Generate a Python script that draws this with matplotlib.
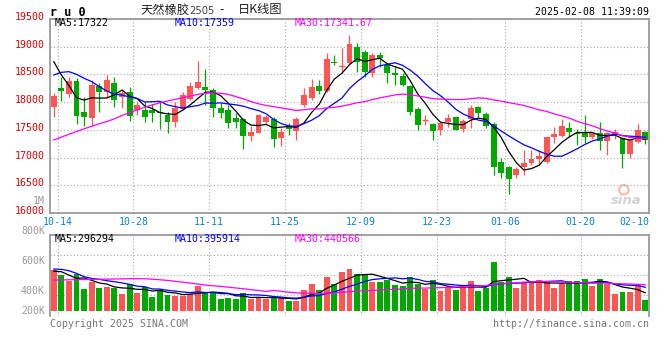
import numpy as np
import pandas as pd
import matplotlib
matplotlib.use("Agg")
import matplotlib.pyplot as plt
from matplotlib.transforms import offset_copy
from matplotlib.patches import Ellipse

# ---------------- data ----------------
open_ = [17918, 18249, 18141, 18382, 17828, 17708, 18291, 18177, 18340, 18099,
         18177, 17859, 17858, 17858, 17828, 17768, 17648, 17876, 18051, 18249,
         18280, 18220, 17900, 17858, 17708, 17696, 17396, 17450, 17648, 17690,
         17347, 17546, 17486, 17949, 18069, 18291, 18207, 18730, 18640, 18700,
         19001, 18911, 18532, 18851, 18670, 18532, 18478, 18291, 17870, 17672,
         17606, 17497, 17648, 17726, 17516, 17696, 17918, 17786, 17600, 16926,
         16824, 16686, 16830, 16896, 16968, 16926, 17377, 17396, 17528, 17450,
         17437, 17365, 17450, 17305, 17408, 17359, 17059, 17287, 17462]
high = [18171, 18460, 18460, 18430, 18099, 18400, 18340, 18490, 18460, 18201,
        18280, 18009, 18009, 17960, 18009, 17828, 18009, 18189, 18370, 18742,
        18600, 18250, 17980, 17950, 17798, 17720, 17570, 17780, 17770, 17738,
        17528, 17618, 17726, 18249, 18412, 18400, 18893, 18850, 18971, 19211,
        19061, 18941, 18881, 18899, 18712, 18650, 18520, 18310, 17918, 17770,
        17620, 17648, 17786, 17740, 17700, 17948, 17930, 17820, 17648, 16990,
        16850, 16836, 17137, 17137, 17137, 17377, 17558, 17690, 17648, 17516,
        17768, 17440, 17648, 17460, 17510, 17380, 17330, 17606, 17480]
low = [17738, 18027, 18099, 17600, 17576, 17590, 17828, 18069, 17919, 17889,
       17666, 17768, 17648, 17650, 17510, 17450, 17560, 17858, 18039, 18237,
       17950, 17738, 17720, 17528, 17528, 17149, 17305, 17440, 17620, 17185,
       17209, 17408, 17317, 17919, 18039, 18147, 18189, 18670, 18520, 18688,
       18550, 18460, 18460, 18640, 18340, 18310, 18290, 17768, 17498, 17580,
       17317, 17407, 17546, 17490, 17470, 17528, 17740, 17528, 16686, 16626,
       16343, 16626, 16686, 16866, 16866, 16908, 17257, 17380, 17377, 17227,
       17257, 17330, 17137, 17047, 17330, 16818, 16999, 17269, 17239]
close = [18111, 18201, 18382, 17756, 17738, 18309, 18177, 18400, 18039, 18171,
         17756, 17949, 17738, 17810, 17800, 17648, 17888, 18129, 18291, 18370,
         18220, 17900, 17810, 17618, 17648, 17396, 17456, 17768, 17726, 17330,
         17468, 17510, 17690, 18129, 18267, 18207, 18772, 18700, 18658, 19049,
         18730, 18538, 18851, 18790, 18532, 18484, 18310, 17828, 17588, 17678,
         17486, 17618, 17708, 17497, 17660, 17888, 17810, 17570, 16836, 16728,
         16608, 16794, 16908, 16968, 17028, 17377, 17425, 17570, 17468, 17420,
         17377, 17437, 17305, 17450, 17456, 17059, 17317, 17498, 17317]
volume_k = [677, 594, 494, 605, 361, 472, 377, 400, 372, 278,
            438, 294, 394, 233, 344, 266, 250, 250, 272, 411,
            311, 311, 200, 216, 200, 294, 189, 216, 189, 228,
            228, 167, 167, 344, 444, 344, 566, 444, 649, 694,
            611, 611, 477, 477, 511, 427, 411, 555, 444, 361,
            511, 327, 394, 344, 411, 494, 327, 383, 816, 477,
            561, 383, 461, 461, 511, 494, 383, 438, 494, 494,
            527, 411, 527, 438, 278, 316, 316, 411, 178]

# moving-average values before a full window exists
ma5_head = [18730, 18490, 18300, 18080]
ma10_head = [18490, 18538, 18550, 18502, 18430, 18370, 18280, 18201, 18141]
ma30_head = [17317, 17370, 17420, 17470, 17520, 17565, 17610, 17650, 17700, 17760,
             17810, 17860, 17910, 17950, 17990, 18020, 18050, 18080, 18110, 18140,
             18160, 18170, 18160, 18140, 18100, 18060, 18010, 17970, 17940]
vma5_head = [660, 649, 594, 538]
vma10_head = [694, 688, 666, 622, 566, 538, 522, 500, 483]
vma30_head = [511, 513, 515, 517, 519, 522, 524, 526, 528, 530,
              533, 533, 533, 525, 515, 505, 490, 475, 461, 444,
              427, 416, 405, 392, 379, 366, 350, 336, 322]

tick_idx = [1, 11, 21, 31, 41, 51, 60, 70, 79]
tick_labels = ["10-14", "10-28", "11-11", "11-25", "12-09", "12-23", "01-06", "01-20", "02-10"]
price_ticks = [16000, 16500, 17000, 17500, 18000, 18500, 19000, 19500]
vol_labels = ["800K", "600K", "400K", "200K"]

# ---------------- helpers ----------------
def with_head(series, n, head):
    ma = pd.Series(series, dtype=float).rolling(n).mean().to_numpy()
    ma[:len(head)] = head
    return ma

W, H = 660, 360
UP, DOWN = "#FF5555", "#00A800"
GRID = "#A8A8A8"
SPINE = "#9A9A9A"
MONO = "DejaVu Sans Mono"
FS = 7.1

fig = plt.figure(figsize=(W / 100, H / 100), dpi=100)
fig.patch.set_facecolor("white")

def rect(l, t, r, b):
    return [l / W, 1 - b / H, (r - l) / W, (b - t) / H]

def ftext(x, y, s, ha="left", va="center", **kw):
    kw.setdefault("family", MONO)
    kw.setdefault("fontsize", FS)
    fig.text(x / W, 1 - y / H, s, ha=ha, va=va, **kw)

n = len(close)
x = np.arange(n)
o = np.array(open_, float); c = np.array(close, float)
hi = np.array(high, float); lo = np.array(low, float)
up = c >= o
cols = np.where(up, UP, DOWN)
bw = 0.78

# ---------------- price panel ----------------
ax = fig.add_axes(rect(50, 19, 649, 213))
ax.set_xlim(-0.5, n - 0.5)
ax.set_ylim(16000, 19500)

# watermark (sina logo, drawn faintly under everything)
ax.add_patch(Ellipse((0.958, 0.12), 0.016, 0.048, transform=ax.transAxes,
                     facecolor="none", edgecolor="#F2BDBD", lw=1.6, zorder=1))
ax.text(0.962, 0.065, "sina", transform=ax.transAxes, ha="center", va="center",
        fontsize=9.5, fontstyle="italic", fontweight="bold", color="#D2D2D2", zorder=1)

ax.vlines(x, lo, hi, colors=cols, lw=0.9, zorder=3)
ax.bar(x, np.maximum(np.abs(c - o), 1), bottom=np.minimum(o, c), width=bw,
       color=cols, edgecolor=cols, lw=0, zorder=4)
flat = np.abs(c - o) < 20
ax.hlines(c[flat], x[flat] - bw / 2, x[flat] + bw / 2, colors=cols[flat], lw=1.0, zorder=4)

ax.plot(x, with_head(close, 5, ma5_head), color="black", lw=0.9, zorder=5)
ax.plot(x, with_head(close, 10, ma10_head), color="#0000FF", lw=0.9, zorder=5)
ax.plot(x, with_head(close, 30, ma30_head), color="#FF00FF", lw=0.9, zorder=5)

ax.set_yticks(price_ticks)
ax.set_xticks([i - 0.5 for i in tick_idx])
ax.set_xticklabels(tick_labels, family=MONO, fontsize=FS, color="#0A84C8")
ax.get_xticklabels()[-1].set_ha("right")
ax.tick_params(length=0, labelleft=False, pad=3.2)
ax.grid(True, color=GRID, ls=(0, (1, 2)), lw=0.8)
for s in ax.spines.values():
    s.set_color(SPINE); s.set_linewidth(1.3)
ylab_tr = offset_copy(ax.get_yaxis_transform(), fig=fig, x=-5, y=2, units="dots")
for p in price_ticks:
    ax.text(0, p, str(p), transform=ylab_tr, ha="right", va="center",
            family=MONO, fontsize=FS, color="#E00000", clip_on=False)

# ---------------- volume panel ----------------
vax = fig.add_axes(rect(50, 234.5, 649, 315.7))
vlo, vhi = -83, 1269
vax.set_xlim(-0.5, n - 0.5)
vax.set_ylim(vlo, vhi)
vol = np.array(volume_k, float)
vax.bar(x, vol, width=bw, color=cols, lw=0, zorder=3)
vax.plot(x, with_head(vol, 5, vma5_head), color="black", lw=0.9, zorder=5)
vax.plot(x, with_head(vol, 10, vma10_head), color="#0000FF", lw=0.9, zorder=5)
vax.plot(x, with_head(vol, 30, vma30_head), color="#FF00FF", lw=0.9, zorder=5)
vax.set_yticks(np.linspace(vlo, vhi, 5)[1:4])
vax.set_xticks([i - 0.5 for i in tick_idx])
vax.tick_params(length=0, labelleft=False, labelbottom=False)
vax.grid(True, color=GRID, ls=(0, (1, 2)), lw=0.8)
for k, s in vax.spines.items():
    s.set_color(SPINE); s.set_linewidth(1.3)
vax.spines["bottom"].set_visible(False)

# ---------------- texts ----------------
ftext(50, 12, "r u 0", fontweight="bold", fontsize=8.5)
ftext(140, 10, "天然橡胶", family=["Noto Sans CJK SC", "DejaVu Sans"], fontsize=8.8, color="#222222")
ftext(189, 11, "2505", family="DejaVu Sans", fontsize=7.2, color="#444444")
ftext(222, 10, "-", family="DejaVu Sans", fontsize=8.5, color="#222222", ha="center")
ftext(238, 10, "日K线图", family=["Noto Sans CJK SC", "DejaVu Sans"], fontsize=8.8, color="#222222")
ftext(649, 12, "2025-02-08 11:39:09", ha="right", color="black")

ftext(55, 23.5, "MA5:17322", color="black")
ftext(175, 23.5, "MA10:17359", color="#0000FF")
ftext(295, 23.5, "MA30:17341.67", color="#FF00FF")

ftext(55, 239, "MA5:296294", color="black")
ftext(175, 239, "MA10:395914", color="#0000FF")
ftext(295, 239, "MA30:440566", color="#FF00FF")

ftext(45, 200.7, "1M", ha="right", color="#999999")
for lab, yy in zip(vol_labels, [230.7, 260.7, 291, 311]):
    ftext(45, yy, lab, ha="right", color="#999999")

ftext(50, 324, "Copyright 2025 SINA.COM", color="#777777")
ftext(649, 324, "http://finance.sina.com.cn", ha="right", color="#777777")

fig.savefig("out.png", dpi=100)
